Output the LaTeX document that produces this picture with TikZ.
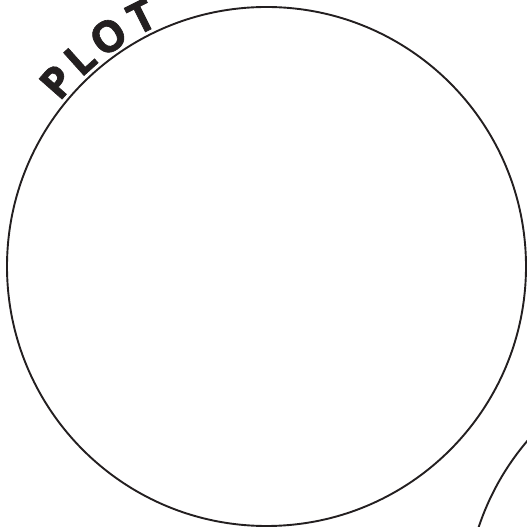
\documentclass[tikz,border=0pt]{standalone}
\usepackage{fontspec}
\newfontfamily\plotfont{Open Sans}[BoldFeatures={FakeBold=1.5}]
\definecolor{ink}{RGB}{35,31,32}
\begin{document}
\begin{tikzpicture}[x=1pt, y=1pt, line width=1.9pt]
            \useasboundingbox (0,0) rectangle (527,527);
            \clip (0,0) rectangle (527,527);
            \coordinate (c1) at (266.5,260.5);
            \coordinate (c2) at (725,-82);
            \draw[ink] (c1) circle (259.5);
            \draw[ink] (c2) circle (259.5);
            \foreach \ch/\ang in {P/138.6,L/131.9,O/124.5,T/116.6}
                \node[ink, font=\plotfont\bfseries\fontsize{43}{43}\selectfont, rotate=\ang-90, anchor=base, inner sep=0pt] (lbl\ch) at ([shift={(\ang:264)}]c1) {\ch};
\end{tikzpicture}
\end{document}
